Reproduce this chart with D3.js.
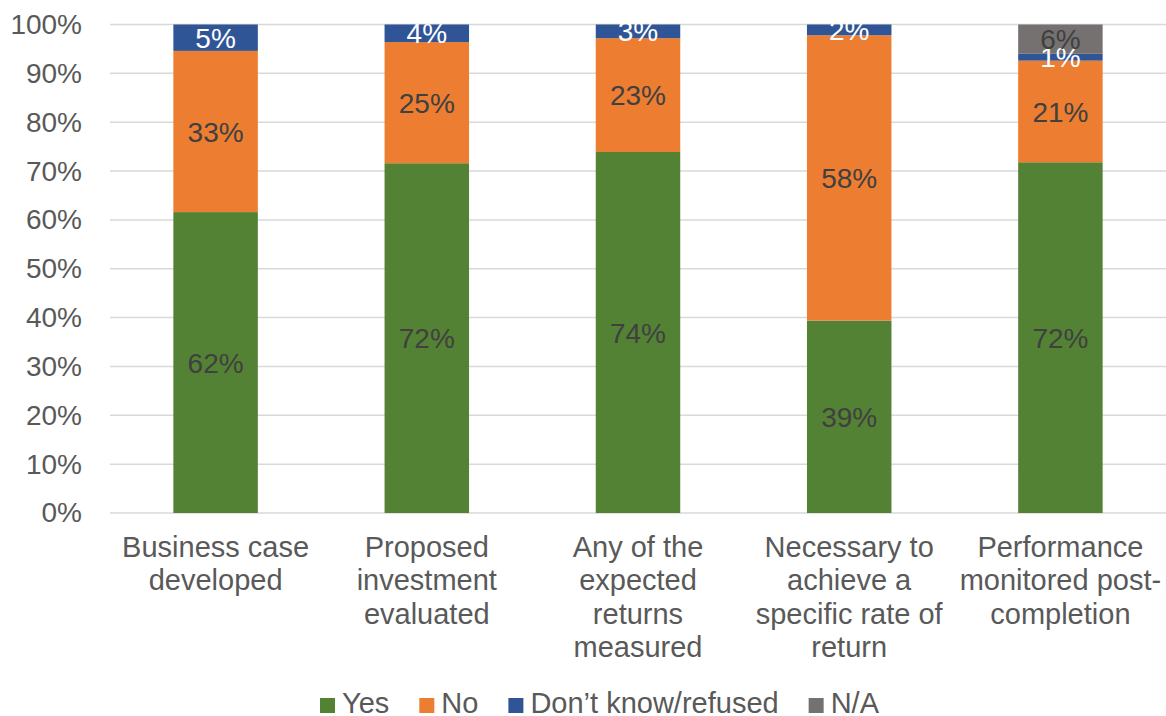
<!DOCTYPE html>
<html>
<head>
<meta charset="utf-8">
<script src="https://cdn.jsdelivr.net/npm/d3@7"></script>
<style>
  html, body { margin: 0; padding: 0; background: #fff; }
  svg { display: block; font-family: "Liberation Sans", Arial, sans-serif; }
</style>
</head>
<body>
<svg id="chart" width="1166" height="716"></svg>
<script>
// Survey questions (x categories), one label line per array entry
const categories = [
  ["Business case", "developed"],
  ["Proposed", "investment", "evaluated"],
  ["Any of the", "expected", "returns", "measured"],
  ["Necessary to", "achieve a", "specific rate of", "return"],
  ["Performance", "monitored post-", "completion"]
];

// Share of responses per category (%)
const yes      = [61.6, 71.6, 73.9, 39.4, 71.8];
const no       = [33.0, 24.8, 23.3, 58.4, 20.8];
const dontKnow = [5.4, 3.6, 2.8, 2.2, 1.4];
const na       = [0, 0, 0, 0, 6.0];

const seriesNames = ["Yes", "No", "Don\u2019t know/refused", "N/A"];
const seriesValues = [yes, no, dontKnow, na];
const seriesColors = ["#548235", "#ED7D31", "#2F5597", "#767171"];
const labelColors = ["#404040", "#404040", "#ffffff", "#404040"];

const yTicks = [0, 10, 20, 30, 40, 50, 60, 70, 80, 90, 100];

const svg = d3.select("#chart");
const plotLeft = 110, plotRight = 1166, plotTop = 24.5, plotBottom = 513;
const fontSize = 28;
const catFontSize = 29;

const x = d3.scaleBand()
  .domain(d3.range(categories.length))
  .range([plotLeft, plotRight])
  .paddingInner(0.6)
  .paddingOuter(0.3);

const y = d3.scaleLinear().domain([0, 100]).range([plotBottom, plotTop]);

// Gridlines
svg.append("g")
  .selectAll("line")
  .data(yTicks)
  .join("line")
  .attr("x1", plotLeft).attr("x2", plotRight)
  .attr("y1", d => y(d)).attr("y2", d => y(d))
  .attr("stroke", "#D9D9D9").attr("stroke-width", 1.5);

// Y axis labels
const yAxis = svg.append("g")
  .attr("transform", `translate(${plotLeft - 28},0)`)
  .call(d3.axisLeft(y).tickValues(yTicks).tickFormat(d => d + "%").tickSize(0).tickPadding(0));
yAxis.select(".domain").remove();
yAxis.selectAll("text")
  .attr("font-size", fontSize)
  .attr("font-family", "Liberation Sans, Arial, sans-serif")
  .attr("fill", "#595959");

// Stacked segments
const stackData = categories.map((c, i) => {
  const row = { i };
  seriesValues.forEach((s, k) => row[k] = s[i]);
  return row;
});
const stack = d3.stack().keys(d3.range(seriesValues.length))(stackData);

const layers = svg.append("g")
  .selectAll("g")
  .data(stack)
  .join("g")
  .attr("fill", (d, k) => seriesColors[k]);

layers.selectAll("rect")
  .data(d => d.filter(p => p[1] - p[0] > 0))
  .join("rect")
  .attr("x", p => x(p.data.i))
  .attr("width", x.bandwidth())
  .attr("y", p => y(p[1]))
  .attr("height", p => y(p[0]) - y(p[1]));

// Value labels centred in each segment
stack.forEach((layer, k) => {
  svg.append("g")
    .selectAll("text")
    .data(layer.filter(p => p[1] - p[0] > 0))
    .join("text")
    .attr("x", p => x(p.data.i) + x.bandwidth() / 2)
    .attr("y", p => y((p[0] + p[1]) / 2))
    .attr("dy", "0.36em")
    .attr("text-anchor", "middle")
    .attr("font-size", fontSize)
    .attr("fill", labelColors[k])
    .text(p => Math.round(p[1] - p[0]) + "%");
});

// Category labels
const xl = svg.append("g");
categories.forEach((lines, i) => {
  const cxm = x(i) + x.bandwidth() / 2;
  const t = xl.append("text")
    .attr("x", cxm)
    .attr("y", 557)
    .attr("text-anchor", "middle")
    .attr("font-size", catFontSize)
    .attr("fill", "#595959");
  lines.forEach((ln, j) => {
    t.append("tspan")
      .attr("x", cxm)
      .attr("dy", j === 0 ? 0 : 33.4)
      .text(ln);
  });
});

// Legend: swatch sitting on the text baseline, items laid out left to right
const legend = svg.append("g").attr("transform", "translate(320,713)");
let lx = 0;
seriesNames.forEach((name, k) => {
  legend.append("rect")
    .attr("x", lx).attr("y", -15)
    .attr("width", 15).attr("height", 15)
    .attr("fill", seriesColors[k]);
  const txt = legend.append("text")
    .attr("x", lx + 22)
    .attr("y", 0)
    .attr("font-size", catFontSize)
    .attr("fill", "#595959")
    .text(name);
  lx += 22 + txt.node().getComputedTextLength() + 30;
});
</script>
</body>
</html>
